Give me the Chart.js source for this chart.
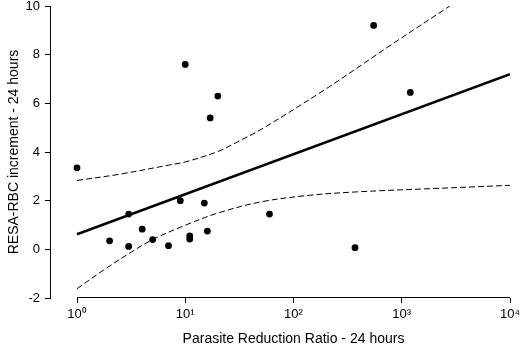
<!DOCTYPE html>
<html>
<head>
<meta charset="utf-8">
<script src="https://cdn.jsdelivr.net/npm/chart.js@4.4.1/dist/chart.umd.min.js"></script>
<style>
    body { margin: 0; background: #fff; }
    #wrap { width: 520px; height: 347px; }
</style>
</head>
<body>
<div id="wrap"><canvas id="chartResa"></canvas></div>
<script>
// measured points
const ratioX = [1, 2, 3, 3, 4, 5, 7, 9, 10, 11, 11, 15, 16, 17, 20, 60, 370, 550, 1200];
const incrementY = [3.35, 0.35, 1.45, 0.12, 0.83, 0.4, 0.15, 2.0, 7.6, 0.55, 0.42, 1.9, 0.75, 5.4, 6.3, 1.45, 0.07, 9.2, 6.45];

// regression line
const fitX = [1, 10000];
const fitY = [0.62, 7.2];

// confidence curves
const upperX = [1, 2.5, 7, 10, 20, 32, 49, 202, 832, 2780];
const upperY = [2.83, 3.09, 3.46, 3.59, 4.02, 4.47, 4.9, 6.61, 8.46, 10.0];
const lowerX = [1, 1.75, 3, 5, 10, 20, 50, 140, 380, 2000, 10000];
const lowerY = [-1.62, -0.86, -0.18, 0.4, 0.99, 1.49, 1.95, 2.22, 2.36, 2.5, 2.63];

const xTicks = [1, 10, 100, 1000, 10000];
const xTickLabels = ['10\u2070', '10\u00b9', '10\u00b2', '10\u00b3', '10\u2074'];
const yTicks = [-2, 0, 2, 4, 6, 8, 10];

const xTitle = 'Parasite Reduction Ratio - 24 hours';
const yTitle = 'RESA-RBC increment - 24 hours';

function toPoints(xs, ys) {
    let arr = [];
    for (let i = 0; i < xs.length; i++) {
        arr.push({ x: xs[i], y: ys[i] });
    }
    return arr;
}

const axisDecor = {
    id: 'axisDecor',
    afterDraw: function (chart) {
        const { ctx, chartArea, scales: { x } } = chart;
        let x0 = x.getPixelForValue(xTicks[0]);
        let x1 = x.getPixelForValue(xTicks[xTicks.length - 1]);
        ctx.save();
        // detached x axis line, only from 10^0 to 10^4
        ctx.strokeStyle = '#000';
        ctx.lineWidth = 1;
        ctx.beginPath();
        ctx.moveTo(x0, chartArea.bottom - 0.5);
        ctx.lineTo(x1, chartArea.bottom - 0.5);
        ctx.stroke();

        ctx.fillStyle = '#000';
        ctx.font = '14px "Liberation Sans", Arial, sans-serif';
        ctx.textAlign = 'center';
        ctx.textBaseline = 'middle';
        ctx.fillText(xTitle, (x0 + x1) / 2, 339);

        ctx.translate(14, (chartArea.top + chartArea.bottom) / 2);
        ctx.rotate(-Math.PI / 2);
        ctx.fillText(yTitle, 0, 0);
        ctx.restore();
    }
};

let ctxResa = document.getElementById('chartResa').getContext('2d');

let resaChart = new Chart(ctxResa, {
    type: 'scatter',
    data: {
        datasets: [
            {
                label: 'Upper',
                data: toPoints(upperX, upperY),
                showLine: true,
                borderColor: '#000',
                borderWidth: 1,
                borderDash: [6, 3],
                pointRadius: 0,
                tension: 0.35
            },
            {
                label: 'Lower',
                data: toPoints(lowerX, lowerY),
                showLine: true,
                borderColor: '#000',
                borderWidth: 1,
                borderDash: [6, 3],
                pointRadius: 0,
                tension: 0.35
            },
            {
                label: 'Fit',
                data: toPoints(fitX, fitY),
                showLine: true,
                borderColor: '#000',
                borderWidth: 2.5,
                pointRadius: 0
            },
            {
                label: 'Patients',
                data: toPoints(ratioX, incrementY),
                backgroundColor: '#000',
                borderWidth: 0,
                pointRadius: 3.4
            }
        ]
    },
    plugins: [axisDecor],
    options: {
        responsive: true,
        maintainAspectRatio: false,
        animation: false,
        layout: {
            padding: { top: 6, right: 10, left: 0, bottom: 0 }
        },
        plugins: {
            legend: { display: false },
            tooltip: { enabled: false }
        },
        scales: {
            x: {
                type: 'logarithmic',
                min: 0.563,
                max: 10000,
                afterBuildTicks: function (scale) {
                    scale.ticks = xTicks.map(function (v) { return { value: v }; });
                },
                afterFit: function (scale) {
                    scale.height = 49;
                    scale.paddingLeft = 0;
                    scale.paddingRight = 0;
                },
                ticks: {
                    color: '#000',
                    font: { family: '"Liberation Sans", Arial, sans-serif', size: 13 },
                    padding: 4,
                    maxRotation: 0,
                    callback: function (value) {
                        let i = xTicks.indexOf(value);
                        return i >= 0 ? xTickLabels[i] : '';
                    }
                },
                grid: {
                    drawOnChartArea: false,
                    drawTicks: true,
                    tickLength: 5,
                    color: '#000'
                },
                border: { display: false }
            },
            y: {
                min: -2,
                max: 10,
                afterBuildTicks: function (scale) {
                    scale.ticks = yTicks.map(function (v) { return { value: v }; });
                },
                afterFit: function (scale) {
                    scale.width = 50;
                    scale.paddingTop = 0;
                    scale.paddingBottom = 0;
                },
                ticks: {
                    color: '#000',
                    font: { family: '"Liberation Sans", Arial, sans-serif', size: 13 },
                    padding: 5
                },
                grid: {
                    drawOnChartArea: false,
                    drawTicks: true,
                    tickLength: 5,
                    color: '#000'
                },
                border: { display: true, color: '#000', width: 1 }
            }
        }
    }
});
</script>
</body>
</html>
